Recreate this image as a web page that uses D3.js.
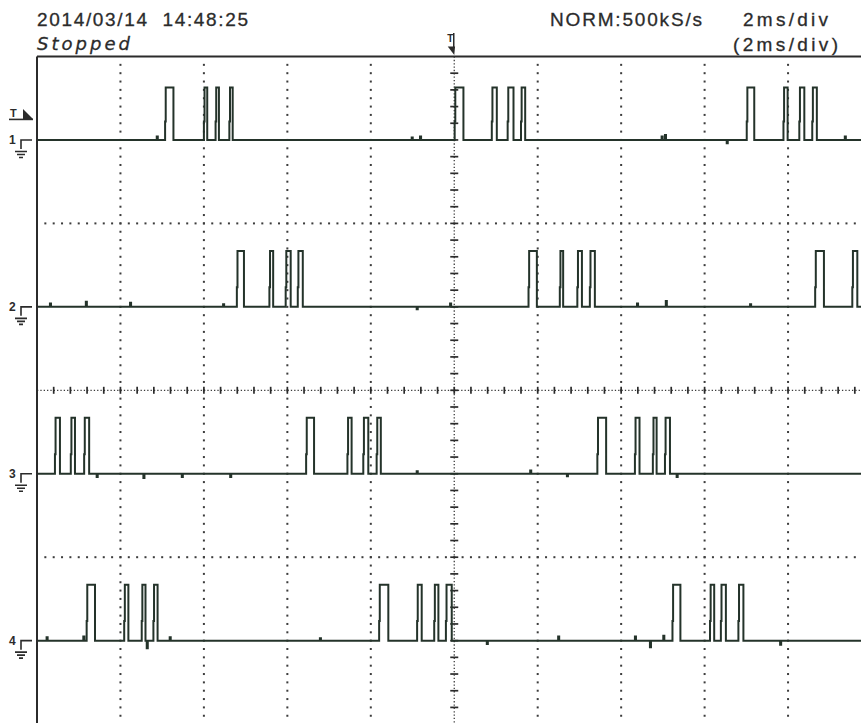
<!DOCTYPE html>
<html><head><meta charset="utf-8">
<script src="https://cdn.jsdelivr.net/npm/d3@7"></script>
<style>
html,body{margin:0;padding:0;background:#fff;}
svg{display:block;}
</style></head><body>
<svg id="scope" width="861" height="723"></svg>
<script>
// acquisition header
const dateTime = "2014/03/14  14:48:25";
const runState = "Stopped";
const sampleInfo = "NORM:500kS/s";
const timeBase = "2ms/div";
const zoomTimeBase = "(2ms/div)";

// channels (split display, 5 V/div)
const channelNames = ["1", "2", "3", "4"];
const voltsPerDiv = 5;
const channelOffsetDiv = [3, 1, -1, -3];
const highLevel = [3.15, 3.35, 3.35, 3.35];
const triggerLevel = 1.5;

// time axis, ms (trigger at 0)
const timeTicks = [-10, -8, -6, -4, -2, 0, 2, 4, 6, 8, 10];

// pulse edges per channel: [rise, fall] in ms
const ch1Pulses = [
  [-6.93, -6.73], [-6.00, -5.92], [-5.72, -5.64], [-5.39, -5.31],
  [0.01, 0.22], [0.90, 1.02], [1.28, 1.42], [1.60, 1.70],
  [7.01, 7.19], [7.89, 7.99], [8.27, 8.39], [8.58, 8.69]
];
const ch2Pulses = [
  [-5.21, -5.04], [-4.43, -4.34], [-4.04, -3.92], [-3.75, -3.63],
  [1.78, 1.98], [2.53, 2.61], [2.95, 3.06], [3.25, 3.37],
  [8.65, 8.86], [9.54, 9.66]
];
const ch3Pulses = [
  [-9.57, -9.45], [-9.19, -9.09], [-8.87, -8.75],
  [-3.55, -3.36], [-2.56, -2.46], [-2.18, -2.06], [-1.86, -1.76],
  [3.43, 3.64], [4.33, 4.44], [4.76, 4.85], [5.05, 5.17]
];
const ch4Pulses = [
  [-8.81, -8.61], [-7.91, -7.81], [-7.49, -7.40], [-7.21, -7.11],
  [-1.80, -1.58], [-0.89, -0.78], [-0.48, -0.38], [-0.20, -0.06],
  [5.23, 5.42], [6.13, 6.23], [6.39, 6.51], [6.81, 6.93]
];

// short baseline spikes per channel: [time ms, volts]
const ch1Glitches = [[-7.13, 0.2], [-1.02, 0.15], [-0.82, 0.2], [4.97, 0.2], [5.05, 0.3], [6.53, -0.2], [9.36, 0.2]];
const ch2Glitches = [[-9.69, 0.2], [-8.83, 0.3], [-7.77, 0.25], [-5.54, 0.15], [-0.90, -0.15], [-0.10, 0.2], [4.38, 0.2], [5.07, 0.35], [7.09, 0.15]];
const ch3Glitches = [[-8.57, -0.2], [-7.45, -0.25], [-6.53, -0.2], [-5.37, -0.2], [-0.90, 0.15], [1.82, 0.2], [2.70, -0.15], [5.33, -0.2]];
const ch4Glitches = [[-9.77, 0.2], [-8.89, 0.25], [-7.37, -0.45], [-6.82, 0.2], [-3.22, 0.15], [0.78, -0.2], [2.49, 0.25], [4.33, 0.25], [4.69, -0.4], [5.01, 0.3], [7.81, -0.25]];

const pulses = [ch1Pulses, ch2Pulses, ch3Pulses, ch4Pulses];
const glitches = [ch1Glitches, ch2Glitches, ch3Glitches, ch4Glitches];

// ---- screen geometry ----
const W = 861, H = 723;
const plotLeft = 37, plotTop = 56.5, divPx = 83.45;
const hDivs = 10, vDivs = 8;
const ink = "#2b2b2b", traceInk = "#24332a", gridInk = "#3c3c3c";

const x = d3.scaleLinear().domain([timeTicks[0], timeTicks[timeTicks.length - 1]])
  .range([plotLeft, plotLeft + hDivs * divPx]);
const yDiv = d3.scaleLinear().domain([-vDivs / 2, vDivs / 2])
  .range([plotTop + vDivs * divPx, plotTop]);
const yCh = (c, v) => yDiv(channelOffsetDiv[c] + v / voltsPerDiv);

const svg = d3.select("#scope");
svg.append("rect").attr("width", W).attr("height", H).attr("fill", "#fff");

// ---- graticule ----
const grid = svg.append("g");
const sub = divPx / 10;
const plotBottom = yDiv(-vDivs / 2), plotRight = x(timeTicks[timeTicks.length - 1]);
const xTime = timeTicks.filter(t => t > timeTicks[0] && t < timeTicks[timeTicks.length - 1] && t !== 0);

// dotted verticals
xTime.forEach(t => {
  grid.append("g").selectAll("rect")
    .data(d3.range(1, vDivs * 10))
    .join("rect")
    .attr("x", x(t) - 1).attr("y", k => plotTop + k * sub - 1)
    .attr("width", 2).attr("height", 2).attr("fill", gridInk);
});
// dotted horizontals at zone boundaries
[2, -2].forEach(d => {
  grid.append("g").selectAll("rect")
    .data(d3.range(1, hDivs * 10 + 1))
    .join("rect")
    .attr("x", k => plotLeft + k * sub - 1).attr("y", yDiv(d) - 1)
    .attr("width", 2).attr("height", 2).attr("fill", gridInk);
});
// centre axes: dense dots plus minor ticks every 1/5 div
const cx = x(0), cy = yDiv(0);
grid.append("line").attr("x1", cx).attr("x2", cx).attr("y1", plotTop).attr("y2", plotBottom)
  .attr("stroke", gridInk).attr("stroke-width", 1.3).attr("stroke-dasharray", "1.3 2.04");
grid.append("line").attr("x1", plotLeft).attr("x2", plotRight).attr("y1", cy).attr("y2", cy)
  .attr("stroke", gridInk).attr("stroke-width", 1.3).attr("stroke-dasharray", "1.3 2.04");
grid.append("g").selectAll("line")
  .data(d3.range(1, vDivs * 5))
  .join("line")
  .attr("x1", cx - 4).attr("x2", cx + 4)
  .attr("y1", k => plotTop + k * divPx / 5).attr("y2", k => plotTop + k * divPx / 5)
  .attr("stroke", ink).attr("stroke-width", 1.7);
grid.append("g").selectAll("line")
  .data(d3.range(1, hDivs * 5 + 1))
  .join("line")
  .attr("x1", k => plotLeft + k * divPx / 5).attr("x2", k => plotLeft + k * divPx / 5)
  .attr("y1", cy - 3.5).attr("y2", cy + 3.5)
  .attr("stroke", ink).attr("stroke-width", 1.7);

// frame
svg.append("line").attr("x1", plotLeft).attr("x2", W).attr("y1", plotTop).attr("y2", plotTop)
  .attr("stroke", ink).attr("stroke-width", 2);
svg.append("line").attr("x1", plotLeft).attr("x2", plotLeft).attr("y1", plotTop).attr("y2", H)
  .attr("stroke", ink).attr("stroke-width", 2);

// ---- traces ----
svg.append("clipPath").attr("id", "screen")
  .append("rect").attr("x", plotLeft + 1).attr("y", plotTop + 1)
  .attr("width", W - plotLeft).attr("height", H - plotTop);

function tracePoints(ps, gs, high) {
  const ev = ps.map(p => ({ t: p[0], p })).concat(gs.map(g => ({ t: g[0], g })));
  ev.sort((a, b) => a.t - b.t);
  const pts = [[-10.5, 0]];
  const rise = 0.015, step = high * 0.35;
  ev.forEach(e => {
    if (e.p) {
      const [a, b] = e.p;
      pts.push([a, 0], [a, step], [a + rise, step], [a + rise, high], [b, high], [b, 0]);
    } else {
      const [t, g] = e.g;
      pts.push([t, 0], [t, g], [t + 0.025, g], [t + 0.025, 0]);
    }
  });
  pts.push([10.5, 0]);
  return pts;
}

const traces = svg.append("g").attr("clip-path", "url(#screen)");
channelNames.forEach((name, c) => {
  const line = d3.line().x(d => x(d[0])).y(d => yCh(c, d[1]));
  traces.append("path")
    .attr("d", line(tracePoints(pulses[c], glitches[c], highLevel[c])))
    .attr("fill", "none").attr("stroke", traceInk)
    .attr("stroke-width", 2).attr("stroke-linejoin", "miter");
});

// ---- channel ground markers ----
const sans = "Liberation Sans, Arial, sans-serif";
channelNames.forEach((name, c) => {
  const g0 = yCh(c, 0);
  const m = svg.append("g").attr("fill", "none").attr("stroke", ink).attr("stroke-width", 1.6);
  m.append("path").attr("d", `M21,${g0 + 9} V${g0} H32`);
  m.append("path").attr("d", `M15,${g0 + 11.5} H27 M17,${g0 + 14.5} H25 M19,${g0 + 17.5} H23`);
  svg.append("text").attr("x", 9).attr("y", g0 + 4)
    .attr("font-family", sans).attr("font-weight", "bold")
    .attr("font-size", 12).attr("fill", ink).text(name);
});

// trigger level marker on channel 1
const tl = yCh(0, triggerLevel);
svg.append("text").attr("x", 10).attr("y", tl + 2)
  .attr("font-family", sans).attr("font-weight", "bold")
  .attr("font-size", 11).attr("fill", ink).text("T");
svg.append("line").attr("x1", 9).attr("x2", 33).attr("y1", tl + 4.5).attr("y2", tl + 4.5)
  .attr("stroke", ink).attr("stroke-width", 1.6);
svg.append("path").attr("d", `M23,${tl - 6} L33,${tl + 4} L23,${tl + 4} Z`).attr("fill", ink);

// trigger position marker
svg.append("text").attr("x", cx - 7).attr("y", 42)
  .attr("font-family", sans).attr("font-weight", "bold")
  .attr("font-size", 10).attr("fill", ink).text("T");
svg.append("line").attr("x1", cx - 0.5).attr("x2", cx - 0.5).attr("y1", 33).attr("y2", 48)
  .attr("stroke", ink).attr("stroke-width", 1.5);
svg.append("path").attr("d", `M${cx - 6.5},46.5 L${cx + 0.8},46.5 L${cx},55 Z`).attr("fill", ink);

// ---- header text ----
function label(t, xx, yy, len, opts = {}) {
  svg.append("text").attr("x", xx).attr("y", yy)
    .attr("font-family", opts.family || sans).attr("font-size", opts.size || 19)
    .attr("font-style", opts.style || "normal").attr("fill", ink)
    .attr("stroke", ink).attr("stroke-width", 0.3)
    .attr("textLength", len).attr("lengthAdjust", "spacing")
    .style("white-space", "pre").text(t);
}
label(dateTime, 37, 26, 211);
label(runState, 37, 50, 93, { family: "DejaVu Sans, sans-serif", style: "italic", size: 18 });
label(sampleInfo, 550, 26, 152);
label(timeBase, 743, 26, 85);
label(zoomTimeBase, 733, 51, 105);
</script>
</body></html>
